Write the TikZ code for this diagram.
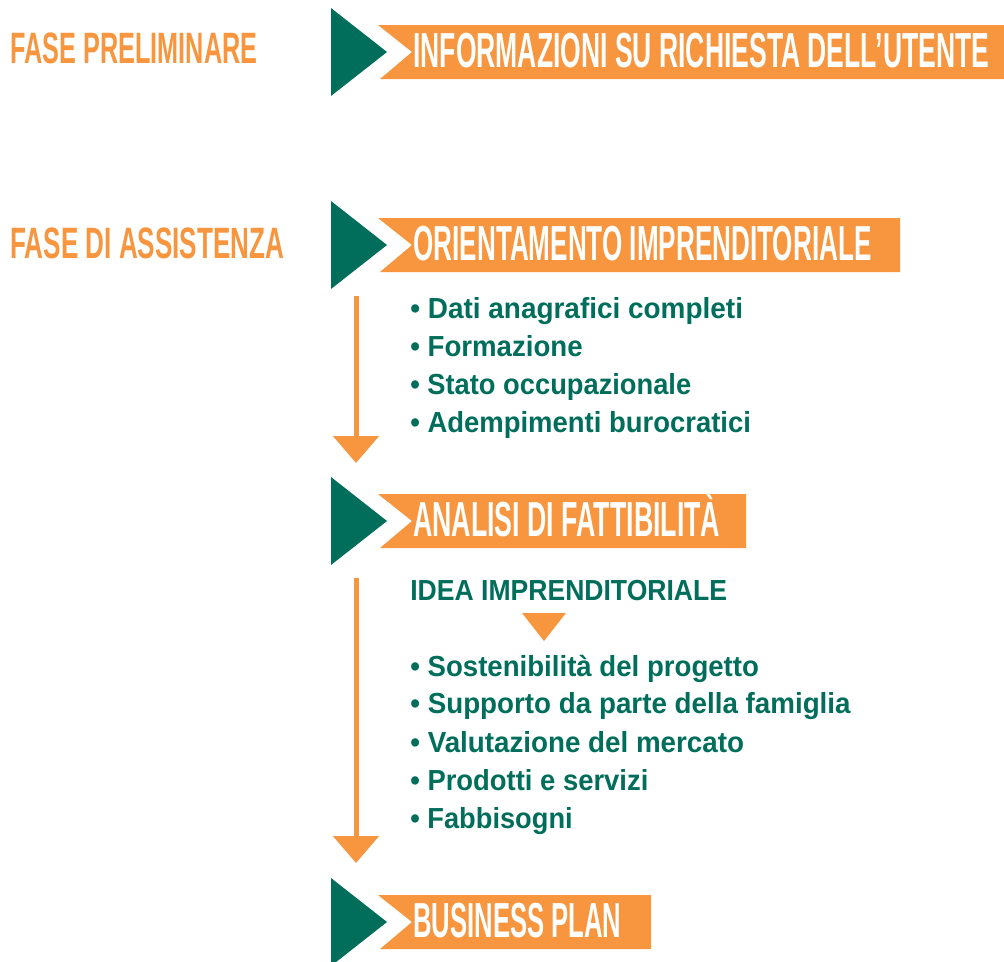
\documentclass[tikz,border=0pt]{standalone}
\usepackage{fontspec}
\setmainfont{Liberation Sans}
\usetikzlibrary{arrows.meta}
\definecolor{fasegreen}{RGB}{0,110,90}
\definecolor{faseorange}{RGB}{247,150,62}
\newlength\txtw
% squeeze text horizontally to a width given in pixels
\newcommand\squeeze[2]{\settowidth\txtw{#2}\pgfmathsetmacro\sqf{#1*0.56693/\txtw}\scalebox{\sqf}[1]{#2}}
\tikzset{
  bannertxt/.style={anchor=base west, inner sep=0pt, text=white, font=\fontsize{28}{30}\selectfont\bfseries},
  fasetxt/.style={anchor=base west, inner sep=0pt, text=faseorange, font=\fontsize{25}{28}\selectfont\bfseries},
  voce/.style={anchor=base west, inner sep=0pt, text=fasegreen, font=\fontsize{16.5}{18}\selectfont\bfseries},
  flow/.style={draw=faseorange, line width=0.1cm, -{Triangle[length=0.54cm,width=0.9cm]}},
}
\begin{document}
\begin{tikzpicture}[x=0.02cm,y=-0.02cm]
\useasboundingbox (0,0) rectangle (1004,961);
% phases
\node[fasetxt] (prelim) at (10,63) {\squeeze{248}{FASE PRELIMINARE}};
\node[fasetxt] (assist) at (10,258) {\squeeze{275}{FASE DI ASSISTENZA}};
% banners
\foreach \yc/\xr/\w/\name/\txt in {
  52/1004/578/info/{INFORMAZIONI SU RICHIESTA DELL’UTENTE},
  245/900/460/orient/{ORIENTAMENTO IMPRENDITORIALE},
  521/746/308/analisi/{ANALISI DI FATTIBILITÀ},
  922/651/209/bplan/{BUSINESS PLAN}}{
  \fill[fasegreen] (331,\yc-44)--(387,\yc)--(331,\yc+44)--cycle;
  \fill[faseorange] (378,\yc-27)--(\xr,\yc-27)--(\xr,\yc+27)--(380,\yc+27)--(412,\yc)--cycle;
  \node[bannertxt] (\name) at (413,\yc+15) {\squeeze{\w}{\txt}};
}
% first list
\foreach \yb/\w/\name/\txt in {
  318/334/dati/{Dati anagrafici completi},
  356/173/form/{Formazione},
  394/282/stato/{Stato occupazionale},
  432/342/adem/{Adempimenti burocratici}}
  \node[voce] (\name) at (410,\yb) {\squeeze{\w}{\textbullet\ \txt}};
% second list
\node[voce] (idea) at (410,600) {\squeeze{318}{IDEA IMPRENDITORIALE}};
\fill[faseorange] (522,613)--(566,613)--(544,641)--cycle;
\foreach \yb/\w/\name/\txt in {
  676/350/sost/{Sostenibilità del progetto},
  713/442/supp/{Supporto da parte della famiglia},
  752/335/valu/{Valutazione del mercato},
  790/239/prod/{Prodotti e servizi},
  828/163/fabb/{Fabbisogni}}
  \node[voce] (\name) at (410,\yb) {\squeeze{\w}{\textbullet\ \txt}};
% arrows
\coordinate (a1) at (356,296);
\coordinate (b1) at (356,463);
\coordinate (a2) at (356,578);
\coordinate (b2) at (356,863);
\draw[flow] (a1)--(b1);
\draw[flow] (a2)--(b2);
\end{tikzpicture}
\end{document}
